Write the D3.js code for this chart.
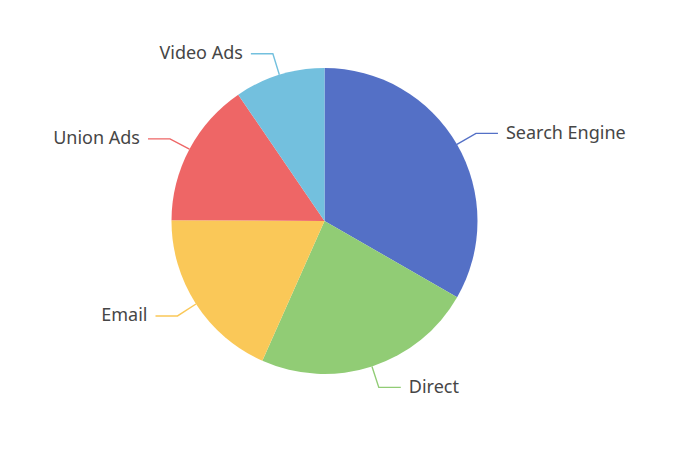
<!DOCTYPE html>
<html><head><meta charset="utf-8">
<script src="https://cdn.jsdelivr.net/npm/d3@7"></script>
<style>html,body{margin:0;padding:0;background:#fff;}</style>
</head><body>
<svg id="chart" width="687" height="465"></svg>
<script>
const categories = ["Search Engine", "Direct", "Email", "Union Ads", "Video Ads"];
const values = [1048, 735, 580, 484, 300];
const colors = ["#5470c6", "#91cc75", "#fac858", "#ee6666", "#73c0de"];

const W = 687, H = 465;
const cx = 324.5, cy = 221, R = 153;
const len1 = 22, len2 = 22, gap = 8;

const svg = d3.select("#chart");
const g = svg.append("g").attr("transform", `translate(${cx},${cy})`);

const data = categories.map((c, i) => ({ name: c, value: values[i], color: colors[i] }));
const pie = d3.pie().value(d => d.value).sort(null);
const arcs = pie(data);
const arc = d3.arc().innerRadius(0).outerRadius(R);

g.selectAll("path.slice").data(arcs).join("path")
  .attr("class", "slice")
  .attr("d", arc)
  .attr("fill", d => d.data.color);

function pt(a, r) { return [Math.sin(a) * r, -Math.cos(a) * r]; }

arcs.forEach(d => {
  const a = (d.startAngle + d.endAngle) / 2;
  const p0 = pt(a, R);
  const p1 = pt(a, R + len1);
  const right = Math.sin(a) >= 0;
  const p2 = [p1[0] + (right ? len2 : -len2), p1[1]];
  g.append("polyline")
    .attr("points", [p0, p1, p2].map(p => p.join(",")).join(" "))
    .attr("fill", "none")
    .attr("stroke", d.data.color)
    .attr("stroke-width", 1.4);
  g.append("text")
    .attr("x", p2[0] + (right ? gap : -gap))
    .attr("y", p2[1] - 1.5)
    .attr("text-anchor", right ? "start" : "end")
    .attr("dominant-baseline", "central")
    .attr("font-family", "'Noto Sans', 'Open Sans', sans-serif")
    .attr("font-size", 18)
    .attr("fill", "#464646")
    .text(d.data.name);
});
</script>
</body></html>
